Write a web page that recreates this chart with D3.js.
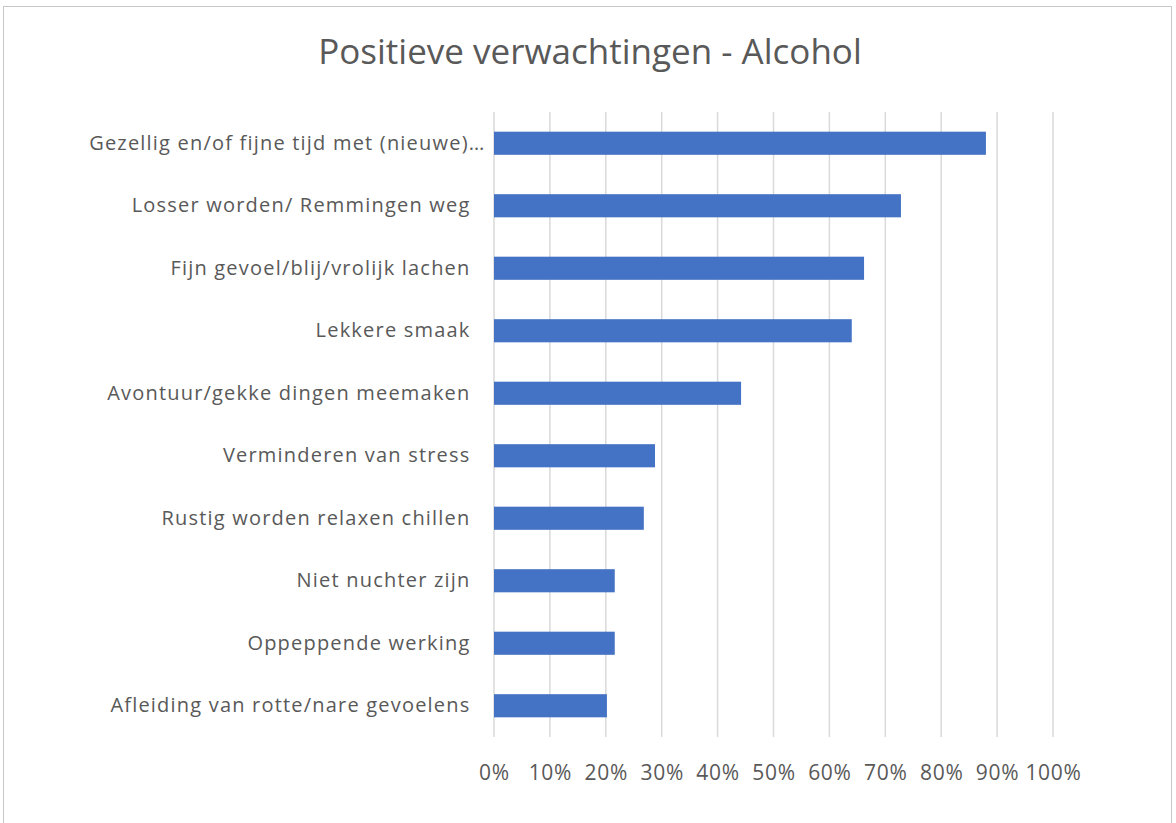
<!DOCTYPE html>
<html><head><meta charset="utf-8">
<script src="https://cdn.jsdelivr.net/npm/d3@7"></script>
<style>body{margin:0;background:#fff;} text{font-family:"Open Sans",sans-serif;fill:#595959;}</style>
</head><body>
<svg id="chart" width="1176" height="823"></svg>
<script>
const title = "Positieve verwachtingen - Alcohol";
const categories = [
  "Gezellig en/of fijne tijd met (nieuwe)…",
  "Losser worden/ Remmingen weg",
  "Fijn gevoel/blij/vrolijk lachen",
  "Lekkere smaak",
  "Avontuur/gekke dingen meemaken",
  "Verminderen van stress",
  "Rustig worden relaxen chillen",
  "Niet nuchter zijn",
  "Oppeppende werking",
  "Afleiding van rotte/nare gevoelens"
];
const values = [0.88, 0.728, 0.662, 0.64, 0.442, 0.288, 0.268, 0.216, 0.216, 0.202];
const ticks = [0,0.1,0.2,0.3,0.4,0.5,0.6,0.7,0.8,0.9,1.0];

const svg = d3.select("#chart");
svg.append("rect").attr("x",3.5).attr("y",6.5).attr("width",1168).attr("height",830)
  .attr("fill","#fff").attr("stroke","#c8c8c8").attr("stroke-width",1);

const x = d3.scaleLinear().domain([0,1]).range([494,1053]);
const y = d3.scaleBand().domain(categories).range([112,737]).paddingInner(0.63).paddingOuter(0.315);

svg.append("text").attr("x",590).attr("y",64).attr("text-anchor","middle")
  .style("font-size","35px").text(title);

// gridlines
svg.append("g").selectAll("line").data(ticks).join("line")
  .attr("x1",d=>x(d)).attr("x2",d=>x(d)).attr("y1",112).attr("y2",737)
  .attr("stroke","#d9d9d9").attr("stroke-width",1.5);

// bars
svg.append("g").selectAll("rect").data(values).join("rect")
  .attr("x",x(0)).attr("y",(d,i)=>y(categories[i]))
  .attr("width",d=>x(d)-x(0)).attr("height",y.bandwidth())
  .attr("fill","#4472C4");

// x axis labels
const xAxis = d3.axisBottom(x).tickValues(ticks).tickFormat(d3.format(".0%")).tickSize(0).tickPadding(0);
const gx = svg.append("g").attr("transform","translate(0,765)").call(xAxis);
gx.select(".domain").remove();
gx.selectAll("text").attr("dy","0.71em").style("font-size","21px").style("fill","#595959")
  .style("font-family","Open Sans").style("letter-spacing","0.7px");

// y axis labels
const yAxis = d3.axisLeft(y).tickSize(0).tickPadding(0);
const gy = svg.append("g").attr("transform","translate(470.5,0)").call(yAxis);
gy.select(".domain").remove();
gy.selectAll("text").style("font-size","20px").style("fill","#595959").style("font-family","Open Sans")
  .style("letter-spacing","1.2px")
  .attr("dx",(d,i)=> i===0 ? 15 : 0);
</script>
</body></html>
